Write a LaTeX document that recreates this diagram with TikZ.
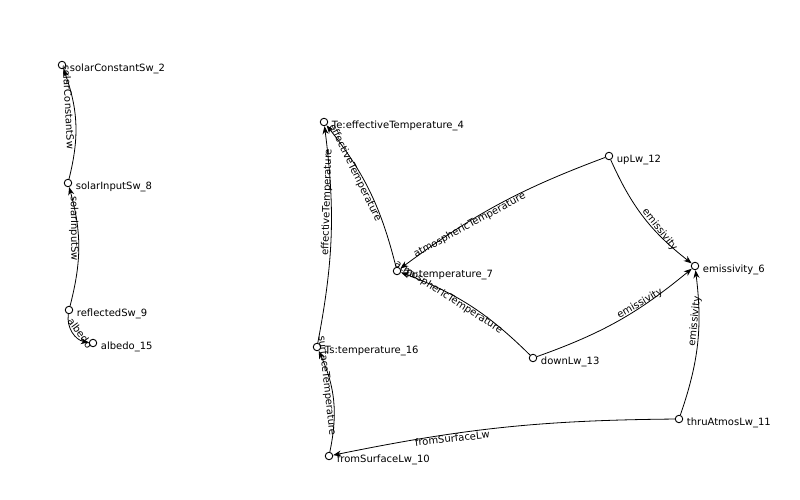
\documentclass[tikz,border=0pt]{standalone}
\usepackage{fontspec}
\setmainfont{DejaVu Sans}
\usetikzlibrary{arrows.meta}

\begin{document}
\begin{tikzpicture}[x=1pt, y=1pt, font=\fontsize{10}{12}\selectfont,
	vertex/.style={circle, draw=black, fill=white, line width=0.9pt, minimum size=7.5pt, inner sep=0pt},
	vlabel/.style={anchor=base west, inner sep=0pt, xshift=3.5pt, yshift=-6.5pt},
	elabel/.style={sloped, auto, swap, pos=0.65, inner sep=0.5pt},
	elabelflip/.style={sloped, auto, pos=0.65, inner sep=0.5pt},
	every edge/.style={draw=black, line width=0.8pt, -{Stealth[length=8pt, width=6pt, inset=2.5pt]}}]
	\useasboundingbox (0,0) rectangle (800,500);

	% shortwave part
	\node[vertex, label={[vlabel]right:solarConstantSw\_2}] (sc2) at (62,435){};
	\node[vertex, label={[vlabel]right:solarInputSw\_8}] (si8) at (68,317){};
	\node[vertex, label={[vlabel]right:reflectedSw\_9}] (rs9) at (69,190){};
	\node[vertex, label={[vlabel]right:albedo\_15}] (al15) at (93,157){};

	% longwave part
	\node[vertex, label={[vlabel]right:Te:effectiveTemperature\_4}] (te4) at (324,378){};
	\node[vertex, label={[vlabel]right:Ta:temperature\_7}] (ta7) at (397,229){};
	\node[vertex, label={[vlabel]right:upLw\_12}] (up12) at (609,344){};
	\node[vertex, label={[vlabel]right:emissivity\_6}] (em6) at (695,234){};
	\node[vertex, label={[vlabel]right:Ts:temperature\_16}] (ts16) at (317,153){};
	\node[vertex, label={[vlabel]right:downLw\_13}] (dn13) at (533,142){};
	\node[vertex, label={[vlabel]right:thruAtmosLw\_11}] (th11) at (679,81){};
	\node[vertex, label={[vlabel]right:fromSurfaceLw\_10}] (fs10) at (329,44){};

	% edges
	\path (si8) edge[bend right=17] (sc2);
	\path (rs9) edge[bend right=15] (si8);
	\path (rs9) edge[bend right=45] (al15);
	\path (ts16) edge[bend right=9] (te4);
	\path (ta7) edge[bend right=12] (te4);
	\path (up12) edge[bend right=8] (ta7);
	\path (dn13) edge[bend right=12] (ta7);
	\path (up12) edge[bend right=14] (em6);
	\path (dn13) edge[bend right=10] (em6);
	\path (th11) edge[bend right=13] (em6);
	\path (fs10) edge[bend right=18] (ts16);
	\path (th11) edge[bend right=5.5] (fs10);

	% edge labels (along the chords)
	\path (si8) -- node[elabelflip] {solarConstantSw} (sc2);
	\path (rs9) -- node[elabelflip] {solarInputSw} (si8);
	\path (rs9) -- node[elabel] {albedo} (al15);
	\path (ts16) -- node[elabel] {effectiveTemperature} (te4);
	\path (ta7) -- node[elabelflip] {effectiveTemperature} (te4);
	\path (up12) -- node[elabelflip] {atmosphericTemperature} (ta7);
	\path (dn13) -- node[elabelflip] {atmosphericTemperature} (ta7);
	\path (up12) -- node[elabel] {emissivity} (em6);
	\path (dn13) -- node[elabel] {emissivity} (em6);
	\path (th11) -- node[elabel] {emissivity} (em6);
	\path (fs10) -- node[elabelflip] {surfaceTemperature} (ts16);
	\path (th11) -- node[elabelflip] {fromSurfaceLw} (fs10);
\end{tikzpicture}
\end{document}
